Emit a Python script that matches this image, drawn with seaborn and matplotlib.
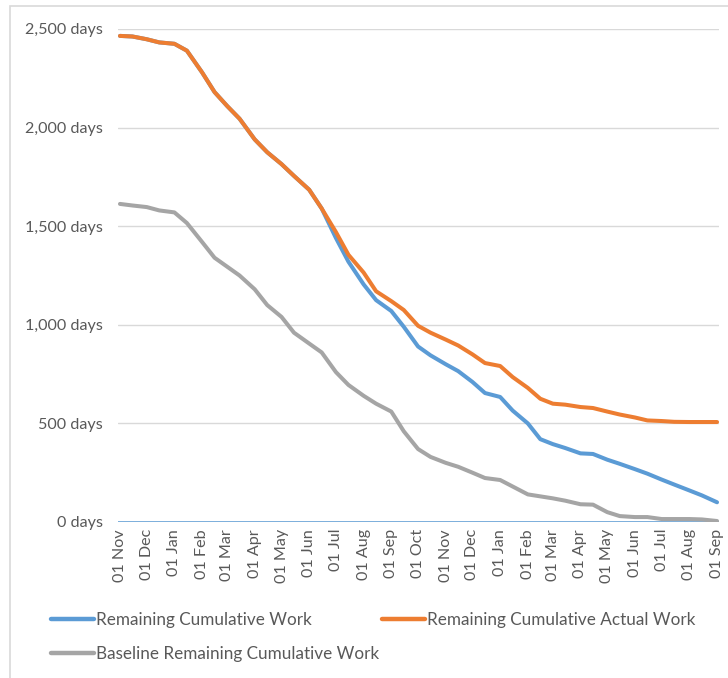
import pandas as pd
import numpy as np
import matplotlib
matplotlib.use("Agg")
import matplotlib.pyplot as plt
import matplotlib.dates as mdates
from matplotlib.ticker import FuncFormatter, FixedLocator
from matplotlib.patches import Rectangle
import seaborn as sns

dates = [
    "2016-11-01", "2016-11-15", "2016-12-01", "2016-12-15",
    "2017-01-01", "2017-01-15", "2017-02-01", "2017-02-15",
    "2017-03-01", "2017-03-15", "2017-04-01", "2017-04-15",
    "2017-05-01", "2017-05-15", "2017-06-01", "2017-06-15",
    "2017-07-01", "2017-07-15", "2017-08-01", "2017-08-15",
    "2017-09-01", "2017-09-15", "2017-10-01", "2017-10-15",
    "2017-11-01", "2017-11-15", "2017-12-01", "2017-12-15",
    "2018-01-01", "2018-01-15", "2018-02-01", "2018-02-15",
    "2018-03-01", "2018-03-15", "2018-04-01", "2018-04-15",
    "2018-05-01", "2018-05-15", "2018-06-01", "2018-06-15",
    "2018-07-01", "2018-07-15", "2018-08-01", "2018-08-15",
    "2018-09-01",
]

remaining_work = [
    2465, 2462, 2448, 2432, 2425, 2390, 2280, 2180, 2110, 2045, 1940, 1875,
    1815, 1755, 1685, 1590, 1440, 1320, 1205, 1125, 1070, 990, 890, 845,
    800, 765, 710, 654, 634, 565, 500, 420, 395, 375, 348, 345,
    316, 295, 268, 245, 215, 190, 160, 135, 100,
]

remaining_actual = [
    2465, 2462, 2448, 2432, 2425, 2390, 2280, 2180, 2110, 2045, 1940, 1875,
    1815, 1755, 1685, 1590, 1470, 1355, 1265, 1170, 1120, 1075, 995, 960,
    925, 895, 850, 806, 791, 735, 680, 625, 600, 595, 583, 578,
    560, 545, 530, 515, 512, 508, 507, 507, 507,
]

baseline_remaining = [
    1613, 1605, 1597, 1580, 1570, 1516, 1420, 1340, 1295, 1250, 1180, 1100,
    1040, 960, 905, 860, 760, 695, 640, 600, 560, 460, 370, 330,
    300, 280, 250, 223, 213, 180, 140, 130, 120, 108, 90, 88,
    50, 30, 25, 25, 15, 15, 15, 13, 5,
]

series_names = [
    "Remaining Cumulative Work",
    "Remaining Cumulative Actual Work",
    "Baseline Remaining Cumulative Work",
]
y_ticks = [0, 500, 1000, 1500, 2000, 2500]

colors = {
    series_names[0]: "#5B9BD5",
    series_names[1]: "#ED7D31",
    series_names[2]: "#A5A5A5",
}

df = pd.DataFrame({
    "date": pd.to_datetime(dates * 3),
    "value": remaining_work + remaining_actual + baseline_remaining,
    "series": [series_names[0]] * len(dates) + [series_names[1]] * len(dates)
              + [series_names[2]] * len(dates),
})

sns.set_theme(style="white")
plt.rcParams["font.family"] = ["Lato", "DejaVu Sans"]

fig = plt.figure(figsize=(7.28, 6.78), dpi=100)
ax = fig.add_axes([118 / 728, 1 - 522 / 678, (719 - 118) / 728, (522 - 29) / 678])

for name, order in [(series_names[2], 1), (series_names[0], 2), (series_names[1], 3)]:
    sub = df[df["series"] == name]
    sns.lineplot(data=sub, x="date", y="value", ax=ax, color=colors[name],
                 linewidth=2.9, label=name, zorder=order + 2)

ax.axhline(0, color="#5B9BD5", linewidth=1.1, zorder=2)

start = pd.Timestamp(dates[0])
end = pd.Timestamp(dates[-1])
pad = pd.Timedelta(days=2.2)
ax.set_xlim(start - pad, end + pad)
ax.set_ylim(0, 2500)

ax.yaxis.set_major_locator(FixedLocator(y_ticks))
ax.yaxis.set_major_formatter(FuncFormatter(lambda v, p: f"{int(v):,} days"))
ax.xaxis.set_major_locator(mdates.MonthLocator(bymonthday=1))
ax.xaxis.set_major_formatter(mdates.DateFormatter("%d %b"))

ax.grid(axis="y", color="#D9D9D9", linewidth=1.0)
ax.grid(axis="x", visible=False)
for s in ax.spines.values():
    s.set_visible(False)

ax.tick_params(axis="both", length=0, labelsize=11.6, labelcolor="#595959")
ax.tick_params(axis="y", pad=11)
ax.tick_params(axis="x", pad=5)
for lbl in ax.get_xticklabels():
    lbl.set_rotation(90)
    lbl.set_ha("center")
    lbl.set_va("top")

ax.set_xlabel("")
ax.set_ylabel("")

handles, labels = ax.get_legend_handles_labels()
hmap = dict(zip(labels, handles))
ordered = [series_names[0], series_names[2], series_names[1]]
if ax.legend_:
    ax.legend_.remove()
leg = fig.legend([hmap[n] for n in ordered], ordered, ncol=2,
                 loc="upper left", bbox_to_anchor=(51 / 728, 1 - 612 / 678),
                 frameon=False, fontsize=12.3, handlelength=2.5,
                 handletextpad=0.12, columnspacing=0.2, labelspacing=1.05,
                 borderaxespad=0, borderpad=0)
for t in leg.get_texts():
    t.set_color("#595959")
for h in leg.get_lines():
    h.set_linewidth(3.2)

fig.patches.append(Rectangle((10 / 728, -0.01), 1.0, 1 - 6 / 678 + 0.01,
                             transform=fig.transFigure, fill=False,
                             edgecolor="#D9D9D9", linewidth=1.2))

fig.savefig("out.png", dpi=100, facecolor="white")
